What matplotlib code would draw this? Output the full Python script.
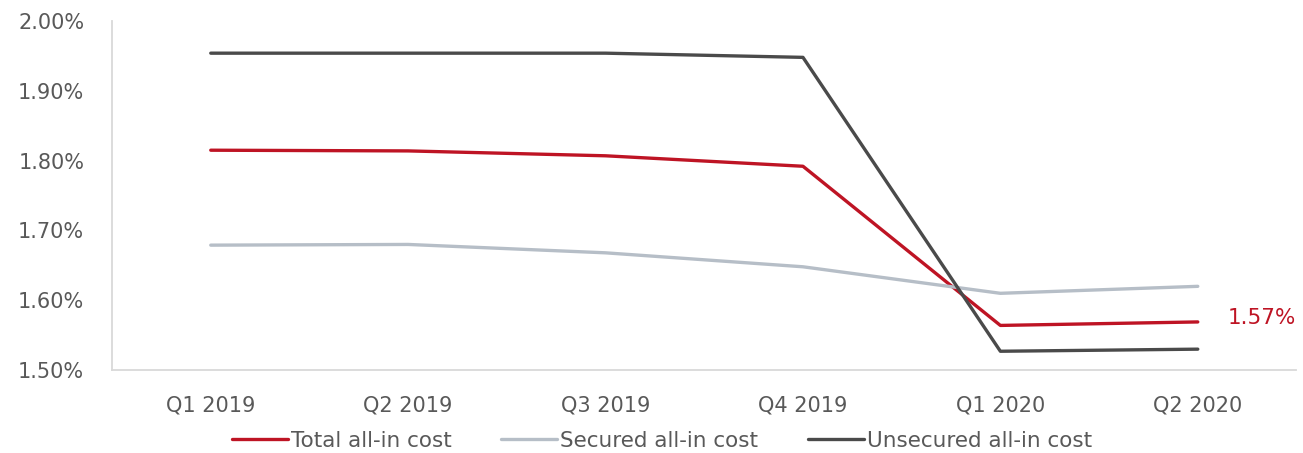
import matplotlib
matplotlib.use("Agg")
import matplotlib.pyplot as plt
from matplotlib.ticker import FuncFormatter

categories = ["Q1 2019", "Q2 2019", "Q3 2019", "Q4 2019", "Q1 2020", "Q2 2020"]
total = [1.815, 1.814, 1.807, 1.792, 1.564, 1.569]
secured = [1.679, 1.680, 1.668, 1.648, 1.610, 1.620]
unsecured = [1.954, 1.954, 1.954, 1.948, 1.527, 1.530]
label_text = "1.57%"

plt.rcParams['font.family'] = ['DejaVu Sans']
txt = "#595959"

fig = plt.figure(figsize=(13.03, 4.53), dpi=100)
ax = fig.add_axes([0.086, 0.183, 0.909, 0.7705])

x = list(range(len(categories)))
ax.plot(x, total, color="#BE1424", lw=2.4, label="Total all-in cost", solid_capstyle="round")
ax.plot(x, secured, color="#B6BEC7", lw=2.4, label="Secured all-in cost", solid_capstyle="round")
ax.plot(x, unsecured, color="#4A4A4A", lw=2.4, label="Unsecured all-in cost", solid_capstyle="round")

ax.annotate(label_text, xy=(x[-1], total[-1]), xytext=(21.5, 3), textcoords="offset points",
            color="#BE1424", fontsize=15.5, va="center", ha="left")

ax.set_xlim(-0.5, 5.5)
ax.set_ylim(1.5, 2.0)
ax.set_yticks([1.5, 1.6, 1.7, 1.8, 1.9, 2.0])
ax.yaxis.set_major_formatter(FuncFormatter(lambda v, p: f"{v:.2f}%"))
ax.set_xticks(x)
ax.set_xticklabels(categories)
ax.tick_params(axis="both", length=0, labelsize=15, colors=txt)
ax.tick_params(axis="x", pad=18)
ax.tick_params(axis="y", pad=20)

for s in ["top", "right"]:
    ax.spines[s].set_visible(False)
for s in ["left", "bottom"]:
    ax.spines[s].set_color("#D9D9D9")
    ax.spines[s].set_linewidth(1.3)

handles, labels = ax.get_legend_handles_labels()
leg = fig.legend(handles, labels, loc="center", bbox_to_anchor=(662 / 1303, 1 - 441 / 453), ncol=3,
                 frameon=False, fontsize=15.5, handlelength=2.6, handletextpad=0.15,
                 columnspacing=2.3, borderpad=0)
for t in leg.get_texts():
    t.set_color(txt)

fig.savefig("out.png", dpi=100)
